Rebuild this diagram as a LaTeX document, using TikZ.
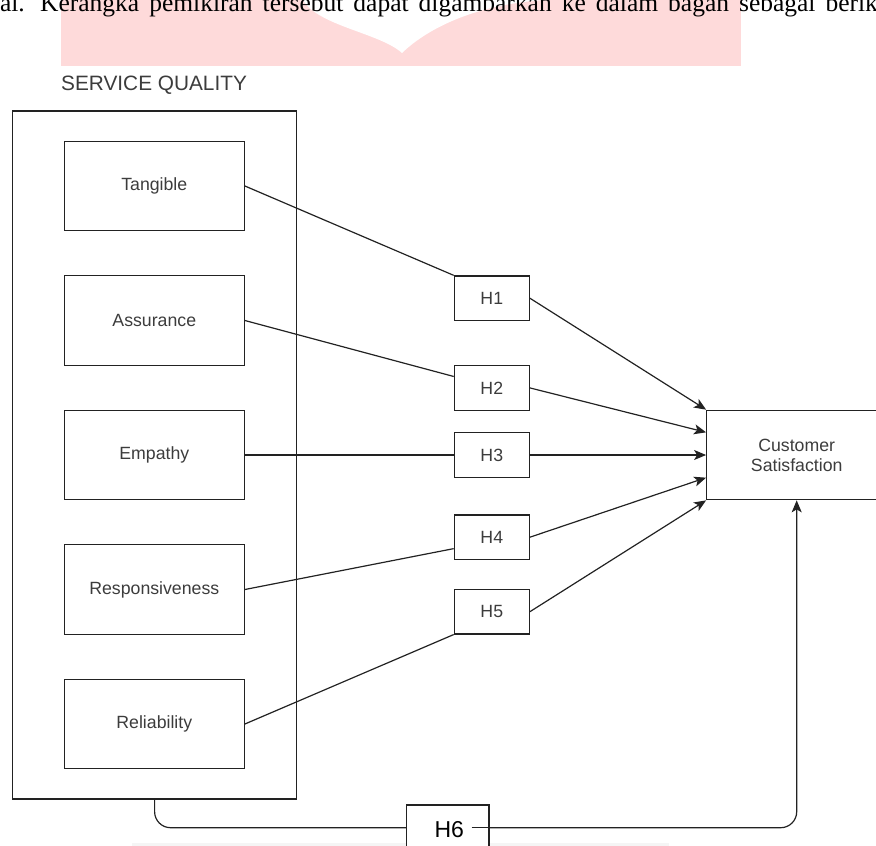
\documentclass[tikz,border=0pt]{standalone}
\usepackage{fontspec}
\setmainfont{Liberation Serif}
\setsansfont{Liberation Sans}
\usetikzlibrary{calc,arrows.meta}
\definecolor{pinkwm}{RGB}{254,218,218}
\definecolor{linec}{RGB}{34,34,34}
\definecolor{txtc}{RGB}{60,60,60}
\begin{document}
\begin{tikzpicture}[x=1pt,y=-1pt,
  varbox/.style={draw=linec, line width=1.2pt, minimum width=180pt, minimum height=89.5pt, inner sep=0pt, font=\sffamily\fontsize{17.7}{20}\selectfont, text=txtc, align=center},
  hbox/.style={draw=linec, line width=1.2pt, minimum width=75pt, minimum height=44.5pt, inner sep=0pt, font=\sffamily\fontsize{17.7}{20}\selectfont, text=txtc},
  conn/.style={draw=linec, line width=1.2pt},
  arr/.style={conn, -{Stealth[length=12pt,width=10pt,inset=3pt]}},
  paratext/.style={inner sep=0pt, font=\fontsize{25.5}{30}\selectfont}
]
\useasboundingbox (0,0) rectangle (876,846);
% watermark
\fill[pinkwm] (61,0) rectangle (741,65.7);
\fill[white] (303,0) .. controls (318,26) and (380,33) .. (402,53) .. controls (430,26) and (480,4) .. (545,0) -- cycle;
% paragraph text (justified line, cut at the top)
\node[paratext, anchor=base east] (para0) at (25,11) {tal.};
\node[paratext, anchor=base west] (para) at (40,11) {\spaceskip=10pt\relax Kerangka pemikiran tersebut dapat digambarkan ke dalam bagan sebagai berik};
% faint band at bottom
\fill[gray!8] (132,843) rectangle (669,846);
% service quality group
\node[anchor=base west, inner sep=0pt, font=\sffamily\fontsize{20.8}{24}\selectfont, text=txtc] (sq) at (61,90) {SERVICE QUALITY};
\node[draw=linec, line width=1.2pt, minimum width=283.8pt, minimum height=688pt, inner sep=0pt] (outer) at (154.6,455) {};
\node[varbox] (tan) at (154.3,186) {Tangible};
\node[varbox] (ass) at (154.3,320.5) {Assurance};
\node[varbox] (emp) at (154.3,455) {Empathy};
\node[varbox] (res) at (154.3,589.5) {Responsiveness};
\node[varbox] (rel) at (154.3,724) {Reliability};
% hypotheses
\node[hbox] (h1) at (491.8,298.2) {H1};
\node[hbox] (h2) at (491.8,387.9) {H2};
\node[hbox] (h3) at (491.8,455) {H3};
\node[hbox] (h4) at (491.8,537.2) {H4};
\node[hbox] (h5) at (491.8,611.7) {H5};
% customer satisfaction
\node[varbox] (cs) at (796.7,455) {Customer\\Satisfaction};
% connectors to hypotheses
\draw[conn] (tan.east) -- (h1.north west);
\draw[conn] (ass.east) -- ($(h2.north west)!0.25!(h2.south west)$);
\draw[conn] (emp.east) -- (h3.west);
\draw[conn] (res.east) -- ($(h4.north west)!0.75!(h4.south west)$);
\draw[conn] (rel.east) -- (h5.south west);
% arrows to customer satisfaction
\draw[arr] (h1.east) -- (cs.north west);
\draw[arr] (h2.east) -- ($(cs.north west)!0.25!(cs.south west)$);
\draw[arr] (h3.east) -- (cs.west);
\draw[arr] (h4.east) -- ($(cs.north west)!0.75!(cs.south west)$);
\draw[arr] (h5.east) -- (cs.south west);
% H6
\coordinate (h6c) at (447.85,827.7);
\draw[arr, rounded corners=16pt] (outer.south) |- (h6c) -| (cs.south);
\node[draw=linec, line width=1.2pt, fill=white, minimum width=82.3pt, minimum height=60pt, inner sep=0pt] (h6) at (447.85,835) {};
\node[inner ysep=0pt, inner xsep=7.5pt, font=\sffamily\fontsize{23}{26}\selectfont, text=black] (h6t) at (449.3,830) {H6};
\draw[conn] (h6c -| h6t.east) -- (h6c -| h6.east);
\end{tikzpicture}
\end{document}
